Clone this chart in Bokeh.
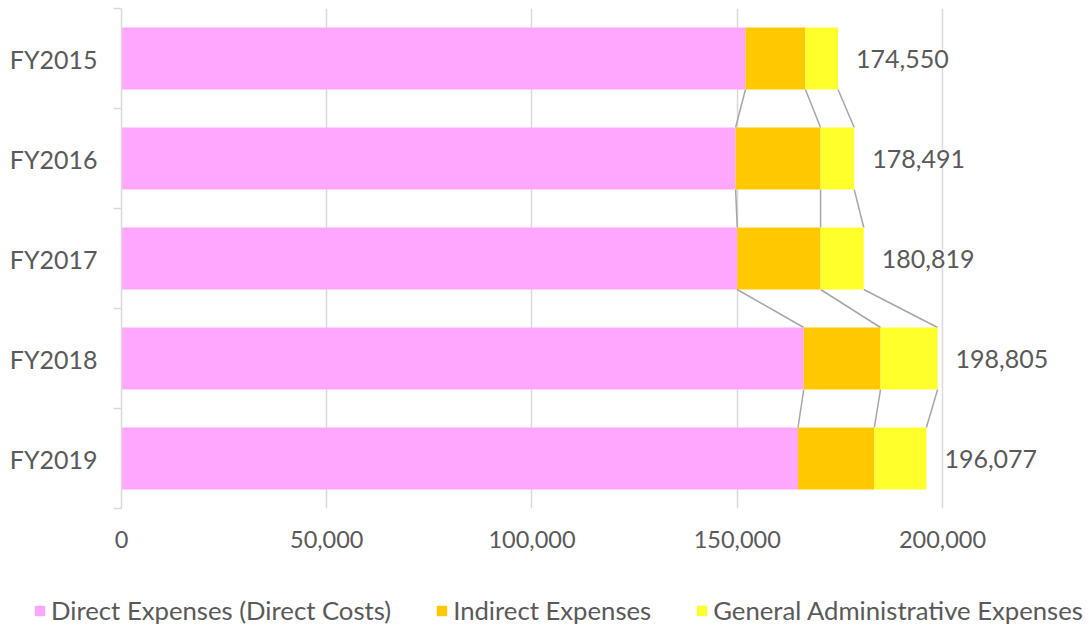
from bokeh.plotting import figure
from bokeh.layouts import column
from bokeh.models import (Range1d, FixedTicker, ColumnDataSource, LabelSet,
                          Legend, LegendItem, NumeralTickFormatter)
from bokeh.core.properties import value
from bokeh.embed import file_html
from bokeh.resources import INLINE

# ---- data ----
categories = ["FY2015", "FY2016", "FY2017", "FY2018", "FY2019"]
direct = [152000, 149600, 150000, 166200, 164800]
indirect = [14600, 20700, 20300, 18700, 18600]
general = [7950, 8191, 10519, 13905, 12677]
series_names = ["Direct Expenses (Direct Costs)", "Indirect Expenses",
                "General Administrative Expenses"]
x_ticks = [0, 50000, 100000, 150000, 200000]

colors = ["#FFA6FF", "#FFC800", "#FFFF2B"]
TEXT = "#595959"
FONT = "Lato"

pos = list(range(len(categories)))
cum1 = direct
cum2 = [a + b for a, b in zip(direct, indirect)]
totals = [a + b + c for a, b, c in zip(direct, indirect, general)]
labels = [f"{t:,}" for t in totals]

src = ColumnDataSource(dict(pos=pos, direct=direct, indirect=indirect,
                            general=general, total=totals, label=labels))

H1 = 590
p = figure(width=1088, height=H1, output_backend="svg", toolbar_location=None,
           x_range=Range1d(0, 233618), y_range=Range1d(4.5, -0.5),
           min_border_left=121, min_border_right=8, min_border_top=8,
           min_border_bottom=H1 - 508)
p.outline_line_color = None
p.background_fill_color = "white"
p.frame_align = False

# series lines
BH = 0.62
for c in (cum1, cum2, totals):
    p.segment(x0=c[:-1], y0=[i + BH / 2 for i in pos[:-1]],
              x1=c[1:], y1=[i + 1 - BH / 2 for i in pos[:-1]],
              line_color="#A6A6A6", line_width=1.5)

renderers = p.hbar_stack(["direct", "indirect", "general"], y="pos", height=BH,
                         color=colors, source=src, line_width=0)

labelset = LabelSet(x="total", y="pos", text="label", source=src, x_offset=18,
                    text_align="left", text_baseline="middle",
                    text_font=value(FONT), text_font_size="25px",
                    text_color=TEXT, background_fill_color="white")
p.add_layout(labelset)

# axes
p.xaxis.ticker = FixedTicker(ticks=x_ticks)
p.xaxis.formatter = NumeralTickFormatter(format="0,0")
p.xaxis.axis_line_color = None
p.xaxis.major_tick_line_color = None
p.xaxis.minor_tick_line_color = None
p.xaxis.major_label_standoff = 16
p.xaxis.major_label_text_font = FONT
p.xaxis.major_label_text_font_size = "23.5px"
p.xaxis.major_label_text_color = TEXT

p.yaxis.ticker = FixedTicker(ticks=pos, minor_ticks=[i - 0.5 for i in range(len(pos) + 1)])
p.yaxis.major_label_overrides = {i: c for i, c in zip(pos, categories)}
p.yaxis.major_tick_out = 0
p.yaxis.major_tick_in = 0
p.yaxis.minor_tick_out = 8
p.yaxis.minor_tick_in = 0
p.yaxis.axis_line_color = "#D9D9D9"
p.yaxis.axis_line_width = 1.5
p.yaxis.minor_tick_line_color = "#D9D9D9"
p.yaxis.minor_tick_line_width = 1.5
p.yaxis.major_label_standoff = 16
p.yaxis.major_label_text_font = FONT
p.yaxis.major_label_text_font_size = "25px"
p.yaxis.major_label_text_color = TEXT

p.xgrid.grid_line_color = "#D9D9D9"
p.xgrid.grid_line_width = 1.5
p.ygrid.visible = False

# ---- legend strip (separate figure below the chart) ----
p2 = figure(width=1088, height=624 - H1, output_backend="svg", toolbar_location=None,
            x_range=Range1d(0, 1), y_range=Range1d(0, 1),
            x_axis_type=None, y_axis_type=None,
            min_border_left=0, min_border_right=0, min_border_top=0, min_border_bottom=0)
p2.outline_line_color = None
p2.frame_align = False
items = []
for name, col in zip(series_names, colors):
    # legend-only renderer placed outside the visible range
    r = p2.hbar(y=[50], left=[-60], right=[-50], height=0.5, color=col, line_width=0)
    items.append(LegendItem(label=name, renderers=[r]))
legend = Legend(items=items, orientation="horizontal", location=(33, -1),
                glyph_width=13, glyph_height=13, label_standoff=5, spacing=44,
                padding=0, margin=0, border_line_color=None,
                background_fill_alpha=0, label_text_font=FONT,
                label_text_font_size="25.7px", label_text_color=TEXT)
p2.add_layout(legend, "center")

layout = column(p, p2, spacing=0)
open("out.html", "w").write(file_html(layout, INLINE))
